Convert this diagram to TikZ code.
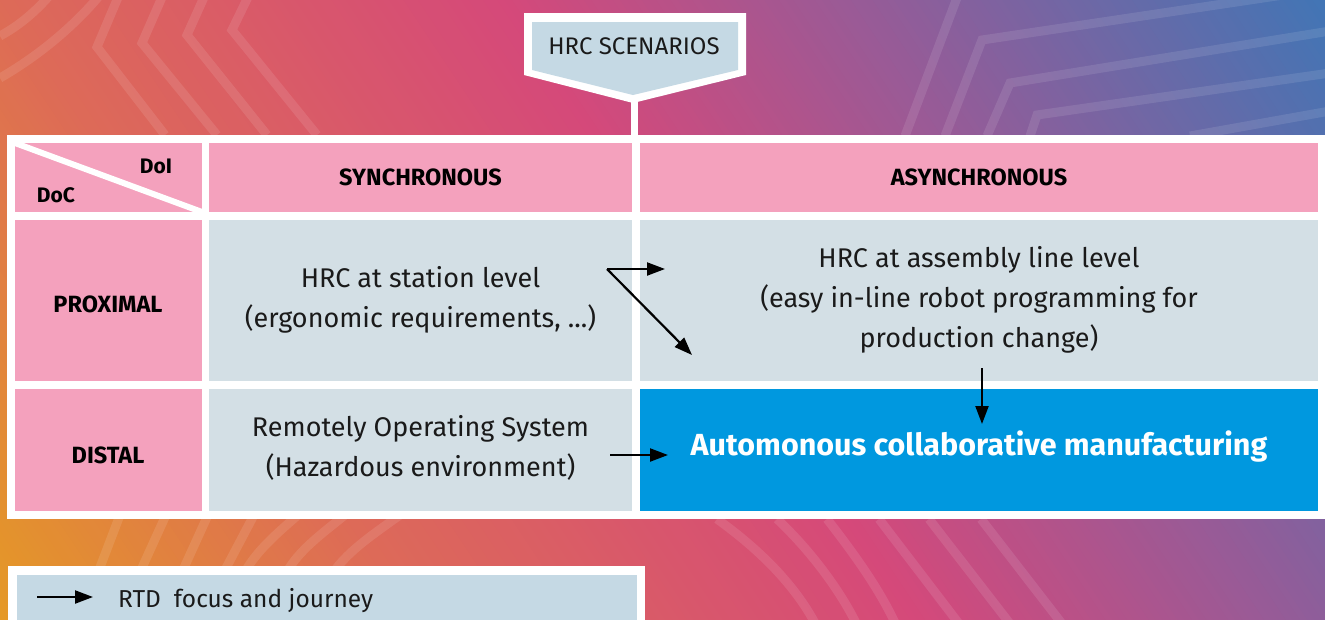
\documentclass[tikz,border=0pt]{standalone}
\usepackage{fontspec}
\setmainfont{Fira Sans}
\usetikzlibrary{arrows.meta}
\definecolor{bgA}{HTML}{E59A25}
\definecolor{bgB}{HTML}{DD6A58}
\definecolor{bgC}{HTML}{D5497A}
\definecolor{bgD}{HTML}{9A5A96}
\definecolor{bgE}{HTML}{3F76B6}
\definecolor{pinkcell}{HTML}{F4A1BD}
\definecolor{greycell}{HTML}{D3DFE5}
\definecolor{legendbg}{HTML}{C5D9E4}
\definecolor{bluecell}{HTML}{0098DF}
\definecolor{txt}{HTML}{1A1A1A}
\tikzset{
  cellbox/.style={inner sep=0pt, outer sep=0pt},
  pinkbox/.style={cellbox, fill=pinkcell},
  greybox/.style={cellbox, fill=greycell},
  bluebox/.style={cellbox, fill=bluecell},
  bodytext/.style={text=txt, align=center, font=\fontsize{27}{40}\selectfont},
  headtext/.style={text=black, font=\fontsize{23.5}{26}\selectfont\bfseries},
  smallhead/.style={text=black, font=\fontsize{21}{24}\selectfont\bfseries},
  bgline/.style={white, opacity=0.1, line width=9pt},
  journey/.style={-{Triangle[length=18pt,width=13pt]}, line width=2.2pt, black},
}
\begin{document}
\begin{tikzpicture}[x=1pt,y=-1pt]
\useasboundingbox (0,0) rectangle (1325,619);
\clip (0,0) rectangle (1325,619);
% background gradient
\begin{scope}[rotate=33.69]
\foreach \t in {-360,-354,...,1116}{
  \ifdim \t pt<0pt
    \pgfmathsetmacro\pp{max(0,min(100,(\t+350)/3.5))}\colorlet{bgc}{bgB!\pp!bgA}
  \else\ifdim \t pt<416pt
    \pgfmathsetmacro\pp{\t/4.16}\colorlet{bgc}{bgC!\pp!bgB}
  \else\ifdim \t pt<700pt
    \pgfmathsetmacro\pp{(\t-416)/2.84}\colorlet{bgc}{bgD!\pp!bgC}
  \else
    \pgfmathsetmacro\pp{min(100,(\t-700)/4.1)}\colorlet{bgc}{bgE!\pp!bgD}
  \fi\fi\fi
  \fill[bgc] (\t,-2000) rectangle (\t+7,2000);
}
\end{scope}
% faint background lines
\draw[bgline] (119,-5) -- (97,47) -- (165,135);
\draw[bgline] (163,-5) -- (142,43) -- (217,135);
\draw[bgline] (205,-5) -- (187,35) -- (267,135);
\draw[bgline] (249,-5) -- (232,30) -- (317,135);
\draw[bgline] (0,36) .. controls (20,25) and (35,12) .. (50,-5);
\draw[bgline] (0,78) .. controls (40,55) and (75,25) .. (100,-5);
\draw[bgline] (905,136) -- (958,-5);
\draw[bgline] (945,136) -- (982,40) -- (1330,-12);
\draw[bgline] (987,136) -- (1010,83) -- (1330,31);
\draw[bgline] (1030,136) -- (1037,115) -- (1330,73);
\draw[bgline] (1190,136) -- (1330,111);
\draw[bgline] (120,515) -- (99,570);
\draw[bgline] (166,515) -- (141,570);
\draw[bgline] (208,515) -- (183,570);
\draw[bgline] (254,515) -- (225,570);
\draw[bgline] (298,515) .. controls (275,535) and (258,550) .. (246,570);
\draw[bgline] (345,515) .. controls (320,535) and (300,550) .. (288,570);
\draw[bgline] (400,515) .. controls (372,535) and (350,550) .. (335,570);
\draw[bgline] (717,519) .. controls (760,550) and (795,585) .. (816,625);
\draw[bgline] (777,519) .. controls (810,550) and (840,590) .. (857,625);
\draw[bgline] (827,519) .. controls (855,555) and (880,590) .. (896,625);
\draw[bgline] (879,519) -- (960,625);
\draw[bgline] (929,519) -- (1011,625);
\draw[bgline] (981,519) -- (1063,625);
% scenario tag
\fill[white] (524,13) -- (746,13) -- (746,75) -- (633,103) -- (524,75) -- cycle;
\fill[legendbg] (532,22) -- (738,22) -- (738,70) -- (633,95) -- (532,70) -- cycle;
\node[text=txt, font=\fontsize{24}{26}\selectfont] (scen) at (634,46) {HRC SCENARIOS};
\coordinate (stemtop) at (634.5,96);
\coordinate (stembot) at (634.5,160);
% table
\fill[white] (7,135) rectangle (1330,519);
\draw[white, line width=7pt] (stemtop) -- (stembot);
\node[pinkbox, minimum width=187, minimum height=69] (c11) at (108.5,177.5) {};
\node[pinkbox, minimum width=423, minimum height=69] (c12) at (420.5,177.5) {};
\node[pinkbox, minimum width=678, minimum height=69] (c13) at (979,177.5) {};
\node[pinkbox, minimum width=187, minimum height=161] (c21) at (108.5,300.5) {};
\node[greybox, minimum width=423, minimum height=161] (c22) at (420.5,300.5) {};
\node[greybox, minimum width=678, minimum height=161] (c23) at (979,300.5) {};
\node[pinkbox, minimum width=187, minimum height=122] (c31) at (108.5,450) {};
\node[greybox, minimum width=423, minimum height=122] (c32) at (420.5,450) {};
\node[bluebox, minimum width=678, minimum height=122] (c33) at (979,450) {};
\begin{scope}
\clip (c11.north west) rectangle (c11.south east);
\draw[white, line width=6pt] (c11.north west) -- (c11.south east);
\end{scope}
\node[smallhead] (doi) at (156,166) {DoI};
\node[smallhead] (doc) at (56,195) {DoC};
\node[headtext] (sync) at (c12) {SYNCHRONOUS};
\node[headtext] (async) at (c13) {ASYNCHRONOUS};
\node[headtext] (prox) at (108,304) {PROXIMAL};
\node[headtext] (dist) at (108,455) {DISTAL};
\node[bodytext] (t22) at (420.5,300) {HRC at station level\\(ergonomic requirements, ...)};
\node[bodytext] (t23) at (979,300) {HRC at assembly line level\\(easy in-line robot programming for\\production change)};
\node[bodytext] (t32) at (420.5,448) {Remotely Operating System\\(Hazardous environment)};
\node[text=white, font=\fontsize{30.5}{36}\selectfont\bfseries] (t33) at (979,447) {Automonous collaborative manufacturing};
% arrows
\coordinate (a0) at (607,269);
\coordinate (a1) at (665,269);
\coordinate (a2) at (692,355);
\coordinate (a3) at (982,368);
\coordinate (a4) at (982,424);
\coordinate (a5) at (610,455);
\coordinate (a6) at (668,455);
\draw[journey] (a0) -- (a1);
\draw[journey] (a0) -- (a2);
\draw[journey] (a3) -- (a4);
\draw[journey] (a5) -- (a6);
% legend
\fill[white] (8,566) rectangle (645,630);
\fill[legendbg] (17,575) rectangle (637,630);
\coordinate (l0) at (37,597);
\coordinate (l1) at (93,597);
\draw[journey] (l0) -- (l1);
\node[text=txt, anchor=base west, inner sep=0pt, font=\fontsize{24.5}{28}\selectfont] (legtext) at (118,607) {RTD\ \ focus and journey};
\end{tikzpicture}
\end{document}
